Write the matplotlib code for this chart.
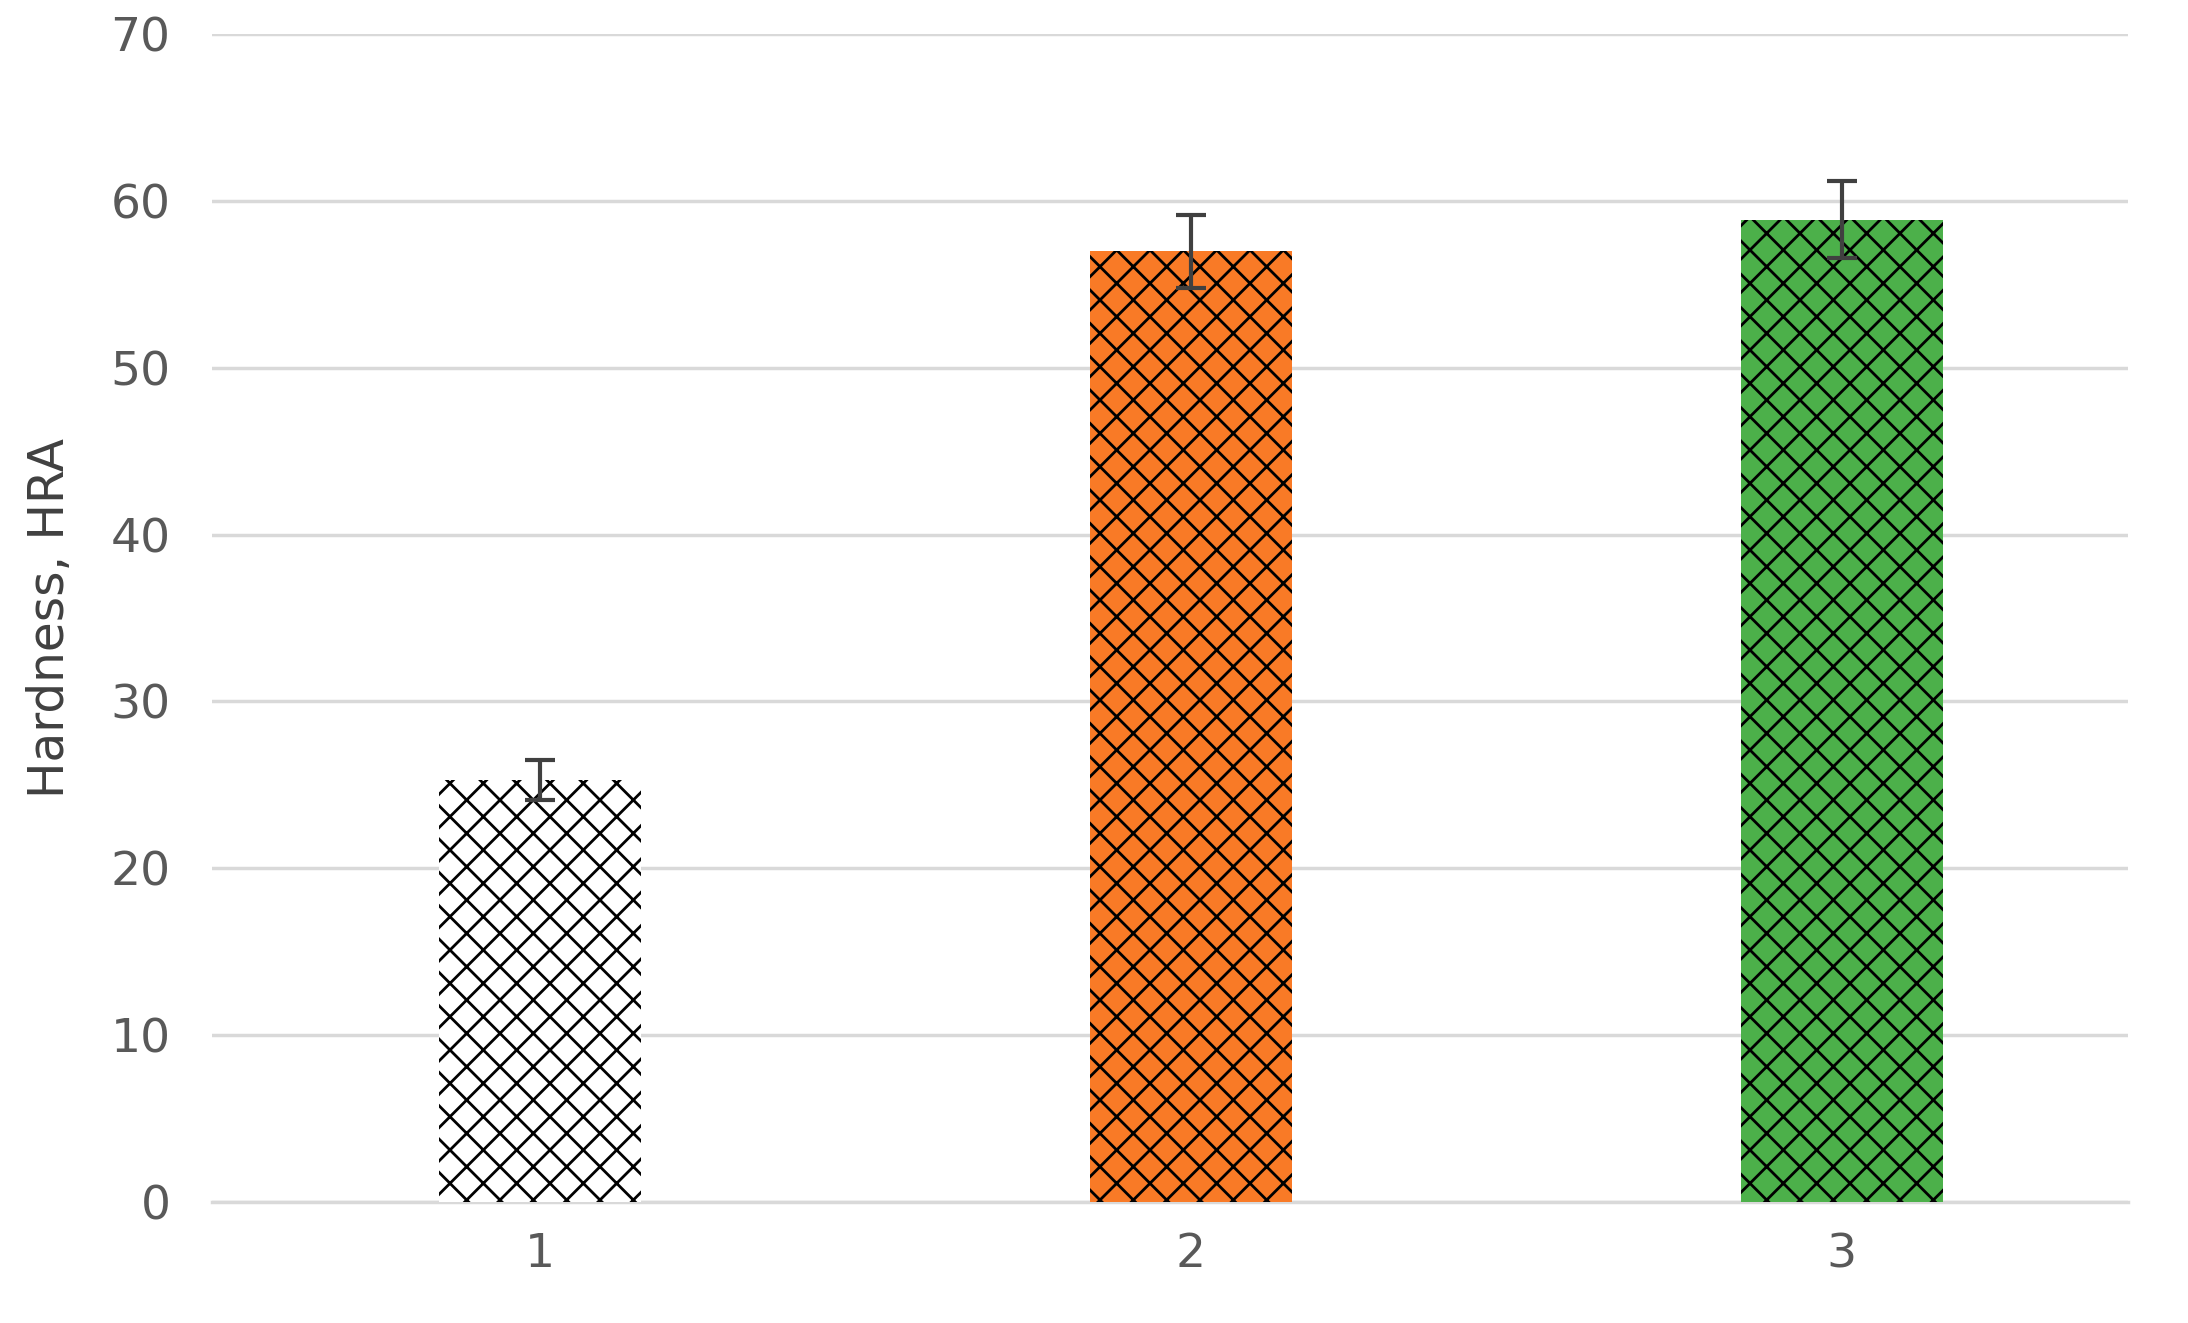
import matplotlib
matplotlib.use("Agg")
import matplotlib.pyplot as plt

categories = ["1", "2", "3"]
values = [25.3, 57.0, 58.9]
errors = [1.2, 2.2, 2.3]
colors = ["white", "#f97a26", "#4cb04a"]

plt.rcParams['hatch.linewidth'] = 2.0
fig = plt.figure(figsize=(21.88, 13.23), dpi=100)
ax = fig.add_axes([0.097, 0.0916, 0.8756, 0.8824])
x = [1, 2, 3]
ax.bar(x, values, width=0.31, color=colors, hatch='x', edgecolor='black', linewidth=0, zorder=3)
ax.errorbar(x, values, yerr=errors, fmt='none', ecolor='#404040', elinewidth=3, capsize=11, capthick=3, zorder=4)
ax.set_xlim(0.497, 3.44)
ax.set_ylim(0, 70)
ax.set_yticks(range(0, 71, 10))
ax.set_xticks(x)
ax.set_xticklabels(categories)
ax.yaxis.grid(True, color='#d9d9d9', linewidth=2.5, zorder=0)
for s in ['top', 'right', 'left']:
    ax.spines[s].set_visible(False)
ax.spines['bottom'].set_color('#d9d9d9')
ax.spines['bottom'].set_linewidth(2.5)
ax.tick_params(axis='y', length=0, labelsize=34, colors='#595959', pad=30)
ax.tick_params(axis='x', length=0, labelsize=34, colors='#595959', pad=22)
ax.set_ylabel("Hardness, HRA", fontsize=35, color='#404040', labelpad=26)
fig.savefig("out.png", dpi=100)
